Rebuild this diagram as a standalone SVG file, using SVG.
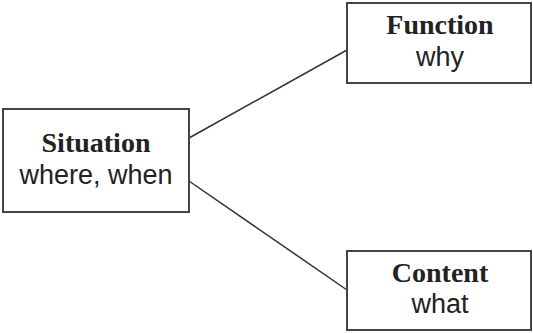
<svg xmlns="http://www.w3.org/2000/svg" width="533" height="333" viewBox="0 0 533 333">
<style>
.box{fill:#fff;stroke:#444;stroke-width:2}
.t{font-family:"Liberation Serif",serif;font-weight:bold;font-size:28px;fill:#222;text-anchor:middle}
.s{font-family:"Liberation Sans",sans-serif;font-size:27px;fill:#222;text-anchor:middle}
.c{stroke:#333;stroke-width:1.5;fill:none}
</style>
<rect width="533" height="333" fill="#fff"/>
<g id="connectors">
<line class="c" x1="189" y1="138" x2="347" y2="50"/>
<line class="c" x1="189" y1="181" x2="347" y2="290"/>
</g>
<g id="situation">
<rect class="box" x="3" y="109" width="186" height="103"/>
<text class="t" x="96" y="152">Situation</text>
<text class="s" x="96" y="184">where, when</text>
</g>
<g id="function">
<rect class="box" x="347" y="3" width="184" height="80"/>
<text class="t" x="440" y="34">Function</text>
<text class="s" x="440" y="66">why</text>
</g>
<g id="content">
<rect class="box" x="347" y="251" width="184" height="79"/>
<text class="t" x="440" y="282">Content</text>
<text class="s" x="440" y="313">what</text>
</g>
</svg>
